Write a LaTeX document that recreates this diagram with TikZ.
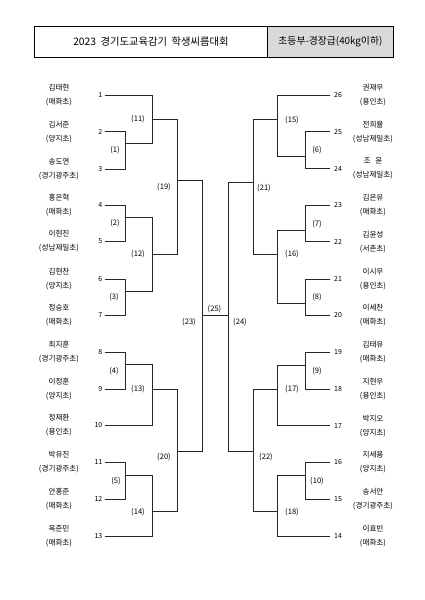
\documentclass[tikz,border=0pt]{standalone}
\usepackage{fontspec}
\setmainfont{Noto Sans CJK KR}
\begin{document}
\begin{tikzpicture}[x=1pt,y=-1pt,
  br/.style={draw=black!85, line width=0.85pt},
  numl/.style={inner sep=0pt, inner xsep=2pt, anchor=east, font=\fontsize{7}{8}\selectfont, text=black},
  numr/.style={inner sep=0pt, inner xsep=4pt, anchor=west, font=\fontsize{7}{8}\selectfont, text=black},
  nm/.style={inner sep=0pt, align=center, font=\fontsize{7.6}{14}\selectfont, text=black},
  lab/.style={inner sep=0pt, font=\fontsize{7.6}{9}\selectfont, text=black},
  hbox/.style={draw=black, line width=0.8pt, anchor=north west, inner sep=0pt, minimum height=31pt}]
\useasboundingbox (0,0) rectangle (424,600);
\fill[white] (0,0) rectangle (424,600);

% header
\node[hbox, minimum width=233pt, font=\fontsize{10.3}{12}\selectfont] (title) at (34,26) {2023\ \ 경기도교육감기\ \ 학생씨름대회};
\node[hbox, minimum width=126pt, fill=black!15, font=\fontsize{9.8}{12}\selectfont] (cls) at (267,26) {초등부-경장급(40kg이하)};

% left players
\node[nm] (a1) at (59,95) {김태현\\(매화초)};
\node[nm] (a2) at (59,131.7) {김서준\\(양지초)};
\node[nm] (a3) at (59,169) {송도연\\(경기광주초)};
\node[nm] (a4) at (59,205) {홍은혁\\(매화초)};
\node[nm] (a5) at (59,241) {이현진\\(성남제일초)};
\node[nm] (a6) at (59,279) {김현찬\\(양지초)};
\node[nm] (a7) at (59,315) {정승호\\(매화초)};
\node[nm] (a8) at (59,352) {최지훈\\(경기광주초)};
\node[nm] (a9) at (59,389) {이정훈\\(양지초)};
\node[nm] (a10) at (59,425) {정재환\\(용인초)};
\node[nm] (a11) at (59,462) {박유진\\(경기광주초)};
\node[nm] (a12) at (59,499) {안홍준\\(매화초)};
\node[nm] (a13) at (59,536) {옥준민\\(매화초)};

\node[numl] (n1) at (104.5,95) {1};
\node[numl] (n2) at (104.5,131.7) {2};
\node[numl] (n3) at (104.5,169) {3};
\node[numl] (n4) at (104.5,205) {4};
\node[numl] (n5) at (104.5,241) {5};
\node[numl] (n6) at (104.5,279) {6};
\node[numl] (n7) at (104.5,315) {7};
\node[numl] (n8) at (104.5,352) {8};
\node[numl] (n9) at (104.5,389) {9};
\node[numl] (n10) at (104.5,425) {10};
\node[numl] (n11) at (104.5,462) {11};
\node[numl] (n12) at (104.5,499) {12};
\node[numl] (n13) at (104.5,536) {13};

% right players
\node[nm] (b26) at (373,95) {권재우\\(용인초)};
\node[nm] (b25) at (373,131.7) {전희율\\(성남제일초)};
\node[nm] (b24) at (373,168.5) {조\hspace{0.6em}윤\\(성남제일초)};
\node[nm] (b23) at (373,205) {김은유\\(매화초)};
\node[nm] (b22) at (373,241.7) {김윤성\\(서촌초)};
\node[nm] (b21) at (373,279) {이시우\\(용인초)};
\node[nm] (b20) at (373,315) {이세찬\\(매화초)};
\node[nm] (b19) at (373,352) {김태유\\(매화초)};
\node[nm] (b18) at (373,389) {지현우\\(용인초)};
\node[nm] (b17) at (373,425.7) {박지오\\(양지초)};
\node[nm] (b16) at (373,462) {지세용\\(양지초)};
\node[nm] (b15) at (373,499) {송서안\\(경기광주초)};
\node[nm] (b14) at (373,536) {이효빈\\(매화초)};

\node[numr] (q26) at (330,95) {26};
\node[numr] (q25) at (330,131.7) {25};
\node[numr] (q24) at (330,168.5) {24};
\node[numr] (q23) at (330,205) {23};
\node[numr] (q22) at (330,241.7) {22};
\node[numr] (q21) at (330,279) {21};
\node[numr] (q20) at (330,315) {20};
\node[numr] (q19) at (330,352) {19};
\node[numr] (q18) at (330,389) {18};
\node[numr] (q17) at (330,425.7) {17};
\node[numr] (q16) at (330,462) {16};
\node[numr] (q15) at (330,499) {15};
\node[numr] (q14) at (330,536) {14};

% junctions left
\coordinate (m1) at (125,143);
\coordinate (m2) at (125,217);
\coordinate (m3) at (125,291);
\coordinate (m4) at (125,364);
\coordinate (m5) at (125,475);
\coordinate (m11) at (152,119);
\coordinate (m12) at (152,254);
\coordinate (m13) at (152,389);
\coordinate (m14) at (152,511);
\coordinate (m19) at (177,180);
\coordinate (m20) at (177,451);
\coordinate (m23) at (202,315);
% junctions right
\coordinate (m6) at (305,156);
\coordinate (m7) at (305,230);
\coordinate (m8) at (305,303);
\coordinate (m9) at (305,365);
\coordinate (m10) at (305,475);
\coordinate (m15) at (277,119);
\coordinate (m16) at (277,254);
\coordinate (m17) at (277,389);
\coordinate (m18) at (277,511);
\coordinate (m21) at (253,182);
\coordinate (m22) at (253,451);
\coordinate (m24) at (228,315);

% left bracket
\draw[br] (n1.east) -| (m11);
\draw[br] (n2.east) -| (m1);
\draw[br] (n3.east) -| (m1);
\draw[br] (m1) -| (m11);
\draw[br] (n4.east) -| (m2);
\draw[br] (n5.east) -| (m2);
\draw[br] (n6.east) -| (m3);
\draw[br] (n7.east) -| (m3);
\draw[br] (m2) -| (m12);
\draw[br] (m3) -| (m12);
\draw[br] (m11) -| (m19);
\draw[br] (m12) -| (m19);
\draw[br] (n8.east) -| (m4);
\draw[br] (n9.east) -| (m4);
\draw[br] (m4) -| (m13);
\draw[br] (n10.east) -| (m13);
\draw[br] (n11.east) -| (m5);
\draw[br] (n12.east) -| (m5);
\draw[br] (m5) -| (m14);
\draw[br] (n13.east) -| (m14);
\draw[br] (m13) -| (m20);
\draw[br] (m14) -| (m20);
\draw[br] (m19) -| (m23);
\draw[br] (m20) -| (m23);
\draw[br] (m23) -- (m24);
% right bracket
\draw[br] (q26.west) -| (m15);
\draw[br] (q25.west) -| (m6);
\draw[br] (q24.west) -| (m6);
\draw[br] (m6) -| (m15);
\draw[br] (q23.west) -| (m7);
\draw[br] (q22.west) -| (m7);
\draw[br] (q21.west) -| (m8);
\draw[br] (q20.west) -| (m8);
\draw[br] (m7) -| (m16);
\draw[br] (m8) -| (m16);
\draw[br] (m15) -| (m21);
\draw[br] (m16) -| (m21);
\draw[br] (q19.west) -| (m9);
\draw[br] (q18.west) -| (m9);
\draw[br] (m9) -| (m17);
\draw[br] (q17.west) -| (m17);
\draw[br] (q16.west) -| (m10);
\draw[br] (q15.west) -| (m10);
\draw[br] (m10) -| (m18);
\draw[br] (q14.west) -| (m18);
\draw[br] (m17) -| (m22);
\draw[br] (m18) -| (m22);
\draw[br] (m21) -| (m24);
\draw[br] (m22) -| (m24);

% match labels left
\node[lab] (l11) at (138,119) {(11)};
\node[lab] (l1) at (115,150) {(1)};
\node[lab] (l19) at (164,186.7) {(19)};
\node[lab] (l2) at (115,223) {(2)};
\node[lab] (l12) at (138,254) {(12)};
\node[lab] (l3) at (114,297) {(3)};
\node[lab] (l23) at (189,321.7) {(23)};
\node[lab] (l4) at (114,370.7) {(4)};
\node[lab] (l13) at (138,389) {(13)};
\node[lab] (l20) at (164,456.7) {(20)};
\node[lab] (l5) at (116,481) {(5)};
\node[lab] (l14) at (138,511.7) {(14)};
\node[lab] (l25) at (214.5,309) {(25)};
% match labels right
\node[lab] (l15) at (292,120) {(15)};
\node[lab] (l6) at (317,150) {(6)};
\node[lab] (l21) at (264,188) {(21)};
\node[lab] (l7) at (317,224) {(7)};
\node[lab] (l16) at (292,254) {(16)};
\node[lab] (l8) at (317,297) {(8)};
\node[lab] (l24) at (240,321.7) {(24)};
\node[lab] (l9) at (317,370.7) {(9)};
\node[lab] (l17) at (292,389) {(17)};
\node[lab] (l22) at (266,456.7) {(22)};
\node[lab] (l10) at (317,481) {(10)};
\node[lab] (l18) at (292,511.7) {(18)};
\end{tikzpicture}
\end{document}
